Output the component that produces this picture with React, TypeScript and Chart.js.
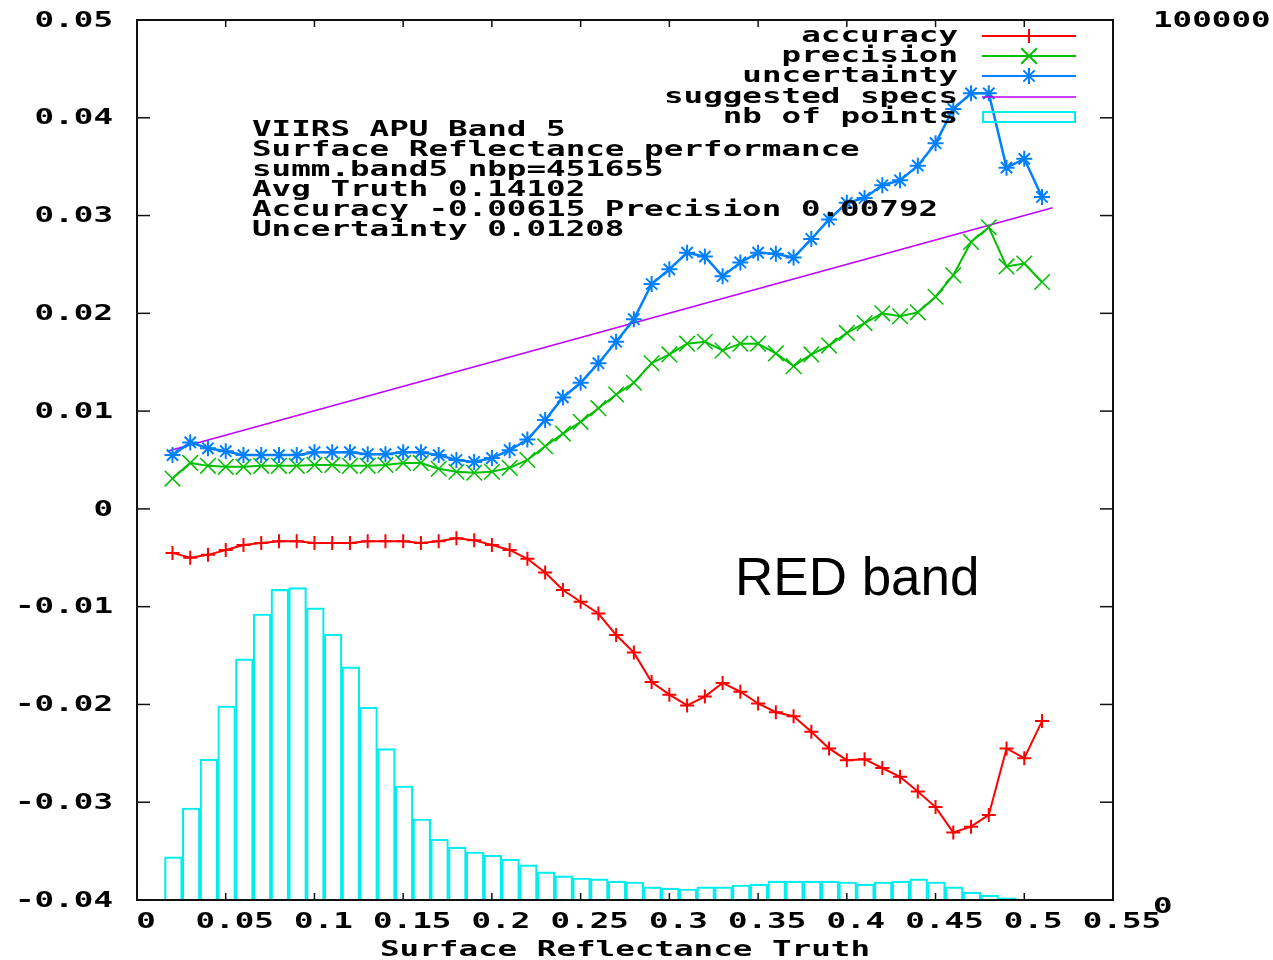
import React, { useEffect, useRef } from 'react';
import { Chart, registerables } from 'chart.js';

Chart.register(...registerables);

// ---- data ----
const truthBins = [
  0.02, 0.03, 0.04, 0.05, 0.06, 0.07, 0.08, 0.09, 0.1, 0.11,
  0.12, 0.13, 0.14, 0.15, 0.16, 0.17, 0.18, 0.19, 0.2, 0.21,
  0.22, 0.23, 0.24, 0.25, 0.26, 0.27, 0.28, 0.29, 0.3, 0.31,
  0.32, 0.33, 0.34, 0.35, 0.36, 0.37, 0.38, 0.39, 0.4, 0.41,
  0.42, 0.43, 0.44, 0.45, 0.46, 0.47, 0.48, 0.49, 0.5, 0.51,
];

const accuracy = [
  -0.0045, -0.005, -0.0047, -0.0042, -0.0037, -0.0035, -0.0033, -0.0033, -0.0035, -0.0035,
  -0.0035, -0.0033, -0.0033, -0.0033, -0.0035, -0.0033, -0.003, -0.0032, -0.0037, -0.0042,
  -0.0051, -0.0065, -0.0083, -0.0095, -0.0107, -0.0129, -0.0147, -0.0177, -0.019, -0.0201,
  -0.0192, -0.0178, -0.0187, -0.0199, -0.0208, -0.0212, -0.0228, -0.0245, -0.0257, -0.0256,
  -0.0265, -0.0274, -0.0289, -0.0305, -0.0331, -0.0325, -0.0313, -0.0245, -0.0255, -0.0217,
];

const precision = [
  0.0031, 0.0047, 0.0044, 0.0043, 0.0043, 0.0044, 0.0044, 0.0044, 0.0045, 0.0045,
  0.0044, 0.0044, 0.0045, 0.0047, 0.0047, 0.0041, 0.0038, 0.0037, 0.0038, 0.0042,
  0.005, 0.0064, 0.0077, 0.0089, 0.0103, 0.0117, 0.0129, 0.0149, 0.0158, 0.0169,
  0.0171, 0.0162, 0.0169, 0.0169, 0.0159, 0.0146, 0.0158, 0.0167, 0.018, 0.019,
  0.02, 0.0197, 0.0201, 0.0217, 0.0239, 0.0273, 0.0288, 0.0248, 0.0251, 0.0232,
];

const uncertainty = [
  0.0055, 0.0068, 0.0062, 0.0059, 0.0055, 0.0055, 0.0055, 0.0055, 0.0058, 0.0058,
  0.0058, 0.0056, 0.0056, 0.0058, 0.0058, 0.0055, 0.005, 0.0048, 0.0052, 0.006,
  0.0071, 0.0091, 0.0114, 0.0129, 0.0149, 0.0171, 0.0194, 0.023, 0.0245, 0.0262,
  0.0258, 0.0238, 0.0252, 0.0262, 0.0261, 0.0257, 0.0276, 0.0296, 0.0313, 0.0318,
  0.0331, 0.0336, 0.0351, 0.0374, 0.0409, 0.0425, 0.0425, 0.0349, 0.0358, 0.0319,
];

const specTruth = [0.017, 0.516];
const specValues = [0.0059, 0.0308];

const histBins = [
  0.0205, 0.0305, 0.0405, 0.0505, 0.0605, 0.0705, 0.0805, 0.0905, 0.1005, 0.1105,
  0.1205, 0.1305, 0.1405, 0.1505, 0.1605, 0.1705, 0.1805, 0.1905, 0.2005, 0.2105,
  0.2205, 0.2305, 0.2405, 0.2505, 0.2605, 0.2705, 0.2805, 0.2905, 0.3005, 0.3105,
  0.3205, 0.3305, 0.3405, 0.3505, 0.3605, 0.3705, 0.3805, 0.3905, 0.4005, 0.4105,
  0.4205, 0.4305, 0.4405, 0.4505, 0.4605, 0.4705, 0.4805, 0.4905, 0.5005,
];

const histCounts = [
  4900, 10450, 16000, 22050, 27400, 32500, 35300, 35500, 33200, 30200,
  26500, 21900, 17200, 12950, 9200, 6900, 6000, 5450, 5100, 4650,
  4000, 3200, 2750, 2500, 2400, 2150, 2050, 1500, 1350, 1250,
  1500, 1500, 1700, 1800, 2150, 2150, 2150, 2150, 2050, 1800,
  2050, 2150, 2400, 2050, 1500, 900, 550, 250, 100,
];

const seriesNames = ['accuracy', 'precision', 'uncertainty', 'suggested specs', 'nb of points'];
const infoLines = [
  'VIIRS APU Band 5',
  'Surface Reflectance performance',
  'summ.band5 nbp=451655',
  'Avg Truth 0.14102',
  'Accuracy -0.00615 Precision 0.00792',
  'Uncertainty 0.01208',
];
const xAxisTitle = 'Surface Reflectance Truth';
const bandNote = 'RED band';

// ---- styling ----
const RED = '#ff0000';
const GREEN = '#00c000';
const BLUE = '#0080ff';
const MAGENTA = '#c000ff';
const CYAN = '#00eeee';
const MONO = 'bold 22px "DejaVu Sans Mono"';
const SX = 1.48;

function fmt(v: number): string {
  if (Math.abs(v) < 1e-9) return '0';
  return String(parseFloat(v.toFixed(2)));
}

function monoText(ctx: CanvasRenderingContext2D, text: string, x: number, y: number, align: CanvasTextAlign) {
  ctx.save();
  ctx.translate(x, y);
  ctx.scale(SX, 1);
  ctx.font = MONO;
  ctx.textAlign = align;
  ctx.textBaseline = 'middle';
  ctx.fillStyle = '#000';
  ctx.fillText(text, 0, 0);
  ctx.restore();
}

function seg(ctx: CanvasRenderingContext2D, x1: number, y1: number, x2: number, y2: number) {
  ctx.beginPath();
  ctx.moveTo(x1, y1);
  ctx.lineTo(x2, y2);
  ctx.stroke();
}

function marker(ctx: CanvasRenderingContext2D, kind: string, x: number, y: number, r: number) {
  if (kind === 'cross' || kind === 'star') {
    seg(ctx, x - r, y, x + r, y);
    seg(ctx, x, y - r, x, y + r);
  }
  if (kind === 'crossRot' || kind === 'star') {
    const d = r * Math.SQRT1_2;
    seg(ctx, x - d, y - d, x + d, y + d);
    seg(ctx, x - d, y + d, x + d, y - d);
  }
}

const gnuplotPlugin = {
  id: 'gnuplotDecor',
  afterDatasetsDraw(chart: any) {
    const ctx: CanvasRenderingContext2D = chart.ctx;
    const { left, right, top, bottom } = chart.chartArea;
    const xs = chart.scales.x;
    const ys = chart.scales.y;
    const y2 = chart.scales.y2;
    ctx.save();
    ctx.strokeStyle = '#111';
    ctx.lineWidth = 2;
    ctx.strokeRect(left, top, right - left, bottom - top);
    ctx.lineWidth = 1.5;
    xs.ticks.forEach((t: any) => {
      const px = xs.getPixelForValue(t.value);
      seg(ctx, px, bottom, px, bottom - 7);
      seg(ctx, px, top, px, top + 7);
    });
    ys.ticks.forEach((t: any) => {
      const py = ys.getPixelForValue(t.value);
      seg(ctx, left, py, left + 13, py);
      seg(ctx, right, py, right - 13, py);
    });
    y2.ticks.forEach((t: any) => {
      const py = y2.getPixelForValue(t.value);
      seg(ctx, right, py, right - 13, py);
    });
    ctx.restore();
  },
  afterDraw(chart: any) {
    const ctx: CanvasRenderingContext2D = chart.ctx;
    const { left, right, bottom } = chart.chartArea;
    const xs = chart.scales.x;
    const ys = chart.scales.y;
    const y2 = chart.scales.y2;

    // tick labels
    xs.ticks.forEach((t: any) => {
      monoText(ctx, fmt(t.value), xs.getPixelForValue(t.value) + 9, bottom + 22, 'center');
    });
    ys.ticks.forEach((t: any) => {
      monoText(ctx, fmt(t.value), left - 24, ys.getPixelForValue(t.value) + 1, 'right');
    });
    y2.ticks.forEach((t: any) => {
      const py = y2.getPixelForValue(t.value);
      monoText(ctx, String(Math.round(t.value)), right + 40, t.value === 0 ? py + 7 : py + 1, 'left');
    });
    monoText(ctx, xAxisTitle, (left + right) / 2, 950, 'center');

    // info block
    infoLines.forEach((line, i) => monoText(ctx, line, 252, 130 + i * 20, 'left'));

    // legend
    const rowY = [36, 56, 76, 97, 117];
    const styles = [
      { c: RED, m: 'cross', r: 7 },
      { c: GREEN, m: 'crossRot', r: 11 },
      { c: BLUE, m: 'star', r: 8 },
      { c: MAGENTA, m: '', r: 0 },
    ];
    seriesNames.forEach((name, i) => {
      monoText(ctx, name, 958, rowY[i], 'right');
    });
    ctx.save();
    styles.forEach((s, i) => {
      ctx.strokeStyle = s.c;
      ctx.lineWidth = i === 3 ? 1.5 : 2;
      seg(ctx, 982, rowY[i], 1076, rowY[i]);
      if (s.m) marker(ctx, s.m, 1029, rowY[i], s.r);
    });
    ctx.strokeStyle = CYAN;
    ctx.lineWidth = 2;
    ctx.strokeRect(983, 112, 92, 10);
    ctx.restore();

    // band note
    ctx.save();
    ctx.font = '53px "Liberation Sans"';
    ctx.fillStyle = '#000';
    ctx.textAlign = 'left';
    ctx.textBaseline = 'alphabetic';
    ctx.fillText(bandNote, 735, 595);
    ctx.restore();
  },
};

export default function App() {
  const canvasRef = useRef<HTMLCanvasElement | null>(null);

  useEffect(() => {
    if (!canvasRef.current) return;
    const pts = (xsArr: number[], ysArr: number[]) => xsArr.map((x, i) => ({ x, y: ysArr[i] }));
    const chart = new Chart(canvasRef.current, {
      type: 'line',
      data: {
        datasets: [
          {
            label: seriesNames[2],
            data: pts(truthBins, uncertainty),
            borderColor: BLUE,
            backgroundColor: BLUE,
            borderWidth: 2.5,
            pointStyle: 'star',
            pointRadius: 8,
            pointBorderWidth: 2,
            pointBorderColor: BLUE,
            fill: false,
            tension: 0,
            yAxisID: 'y',
            order: 1,
          },
          {
            label: seriesNames[1],
            data: pts(truthBins, precision),
            borderColor: GREEN,
            backgroundColor: GREEN,
            borderWidth: 2,
            pointStyle: 'crossRot',
            pointRadius: 11,
            pointBorderWidth: 1.5,
            pointBorderColor: GREEN,
            fill: false,
            tension: 0,
            yAxisID: 'y',
            order: 2,
          },
          {
            label: seriesNames[0],
            data: pts(truthBins, accuracy),
            borderColor: RED,
            backgroundColor: RED,
            borderWidth: 2,
            pointStyle: 'cross',
            pointRadius: 7,
            pointBorderWidth: 2,
            pointBorderColor: RED,
            fill: false,
            tension: 0,
            yAxisID: 'y',
            order: 3,
          },
          {
            label: seriesNames[3],
            data: pts(specTruth, specValues),
            borderColor: MAGENTA,
            backgroundColor: MAGENTA,
            borderWidth: 1.5,
            pointRadius: 0,
            fill: false,
            tension: 0,
            yAxisID: 'y',
            order: 4,
          },
          {
            type: 'bar',
            label: seriesNames[4],
            data: pts(histBins, histCounts),
            borderColor: CYAN,
            backgroundColor: 'rgba(0,0,0,0)',
            borderWidth: 1.5,
            barPercentage: 1,
            categoryPercentage: 1,
            yAxisID: 'y2',
            order: 5,
          } as any,
        ],
      },
      options: {
        animation: false,
        responsive: true,
        maintainAspectRatio: false,
        devicePixelRatio: 1,
        events: [],
        layout: { padding: { top: 20, left: 0, right: 0, bottom: 0 } },
        plugins: {
          legend: { display: false },
          tooltip: { enabled: false },
        },
        scales: {
          x: {
            type: 'linear',
            min: 0,
            max: 0.55,
            offset: false,
            ticks: { stepSize: 0.05, display: false },
            grid: { display: false },
            border: { display: false },
            afterFit: (s: any) => { s.height = 60; },
          },
          y: {
            type: 'linear',
            position: 'left',
            min: -0.04,
            max: 0.05,
            ticks: { stepSize: 0.01, display: false },
            grid: { display: false },
            border: { display: false },
            afterFit: (s: any) => { s.width = 137; },
          },
          y2: {
            type: 'linear',
            position: 'right',
            min: 0,
            max: 100000,
            ticks: { stepSize: 100000, display: false },
            grid: { display: false },
            border: { display: false },
            afterFit: (s: any) => { s.width = 160; },
          },
        } as any,
      },
      plugins: [gnuplotPlugin as any],
    });
    return () => chart.destroy();
  }, []);

  return (
    <div style={{ position: 'absolute', left: 0, top: 0, width: 1273, height: 960, background: '#fff' }}>
      <canvas ref={canvasRef} />
    </div>
  );
}
